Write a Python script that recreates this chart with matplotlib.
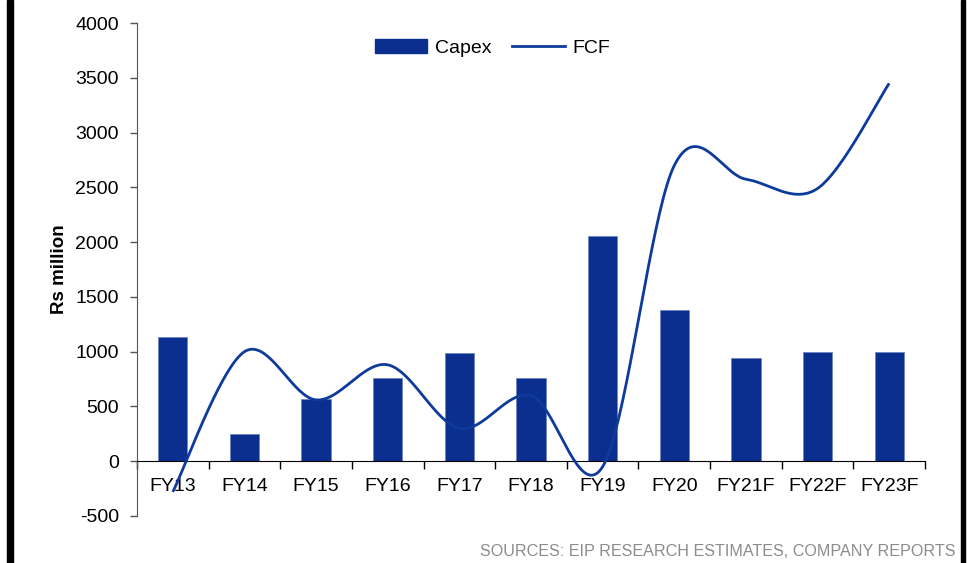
import numpy as np
import matplotlib
matplotlib.use("Agg")
import matplotlib.pyplot as plt
from matplotlib.patches import Rectangle
from matplotlib.lines import Line2D
from matplotlib.ticker import FixedLocator, NullFormatter

plt.rcParams['font.family'] = ['Liberation Sans', 'DejaVu Sans']
plt.rcParams['axes.unicode_minus'] = False

categories = ["FY13", "FY14", "FY15", "FY16", "FY17", "FY18", "FY19",
              "FY20", "FY21F", "FY22F", "FY23F"]
capex = [1130, 250, 570, 760, 990, 760, 2060, 1380, 940, 1000, 1000]
fcf = [-280, 1000, 560, 880, 300, 600, -50, 2700, 2575, 2490, 3450]
y_ticks = [-500, 0, 500, 1000, 1500, 2000, 2500, 3000, 3500, 4000]

BAR_COLOR = "#0B2F8E"
LINE_COLOR = "#0E3B9B"


def smooth_curve(x, y, steps=40):
    """Bezier smoothing through every point (spreadsheet-style smoothed line)."""
    x = np.asarray(x, float)
    y = np.asarray(y, float)
    px = np.concatenate([[x[0]], x, [x[-1]]])
    py = np.concatenate([[y[0]], y, [y[-1]]])
    xs, ys = [], []
    t = np.linspace(0, 1, steps)
    for i in range(1, len(px) - 2):
        p0 = np.array([px[i], py[i]])
        p3 = np.array([px[i + 1], py[i + 1]])
        c1 = p0 + (np.array([px[i + 1], py[i + 1]]) - np.array([px[i - 1], py[i - 1]])) / 6
        c2 = p3 - (np.array([px[i + 2], py[i + 2]]) - np.array([px[i], py[i]])) / 6
        pts = ((1 - t)[:, None] ** 3 * p0 + 3 * ((1 - t) ** 2 * t)[:, None] * c1
               + 3 * ((1 - t) * t ** 2)[:, None] * c2 + (t ** 3)[:, None] * p3)
        xs.extend(pts[:, 0])
        ys.extend(pts[:, 1])
    return np.array(xs), np.array(ys)


fig = plt.figure(figsize=(9.68, 5.63), dpi=100)
ax = fig.add_axes([0.1415, 0.0835, 0.8141, 0.8755])

x = np.arange(len(categories))
ax.bar(x, capex, width=0.41, color=BAR_COLOR, edgecolor="#6F86C4",
       linewidth=0.6, zorder=2)
sx, sy = smooth_curve(x, fcf)
ax.plot(sx, sy, color=LINE_COLOR, linewidth=2.0, zorder=3,
        solid_capstyle="butt")

ax.set_xlim(-0.5, len(categories) - 0.5)
ax.set_ylim(-500, 4000)
ax.set_yticks(y_ticks)
ax.tick_params(axis="y", labelsize=14, length=5, width=1, color="#555555",
               direction="out", pad=8)

ax.spines["top"].set_visible(False)
ax.spines["right"].set_visible(False)
ax.spines["left"].set_color("#555555")
ax.spines["bottom"].set_position(("data", 0))
ax.spines["bottom"].set_color("black")

ax.xaxis.set_major_locator(FixedLocator(np.arange(-0.5, len(categories), 1)))
ax.xaxis.set_major_formatter(NullFormatter())
ax.xaxis.set_minor_locator(FixedLocator(x))
ax.set_xticklabels(categories, minor=True)
ax.tick_params(axis="x", which="major", length=6, width=1, direction="out")
ax.tick_params(axis="x", which="minor", length=0, labelsize=14, pad=12)

ax.set_ylabel("Rs million", fontsize=13.5, fontweight="bold", labelpad=5)

handles = [Rectangle((0, 0), 1, 1, color=BAR_COLOR),
           Line2D([0], [0], color=LINE_COLOR, linewidth=2)]
ax.legend(handles, ["Capex", "FCF"], loc="center",
          bbox_to_anchor=(0.451, 0.950), ncol=2, frameon=False, fontsize=14,
          handlelength=2.7, handleheight=0.75, columnspacing=1.1,
          handletextpad=0.38, borderpad=0)

fig.text(0.987, 0.007, "SOURCES: EIP RESEARCH ESTIMATES, COMPANY REPORTS",
         ha="right", va="bottom", fontsize=11.6, color="#8C8C8C")

# page borders
fig.patches.append(Rectangle((7 / 968, 0), 6 / 968, 1, transform=fig.transFigure,
                             color="black", zorder=5))
fig.patches.append(Rectangle((961 / 968, 0), 4 / 968, 1, transform=fig.transFigure,
                             color="black", zorder=5))

fig.savefig("out.png", dpi=100)
